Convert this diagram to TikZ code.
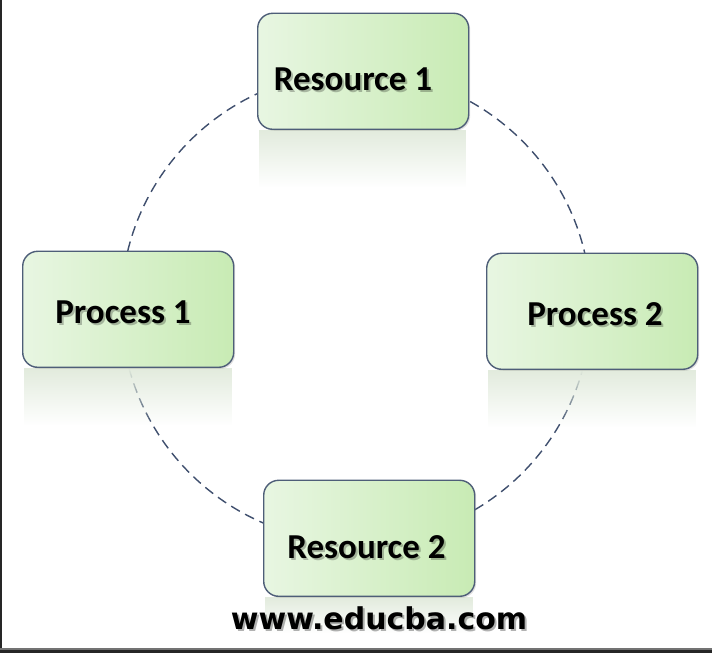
\documentclass[tikz,border=0pt]{standalone}
\usepackage{fontspec}
\setmainfont{Carlito}
\newfontfamily\urlfont{DejaVu Sans}
\usetikzlibrary{fadings,shadows}
\definecolor{boxL}{HTML}{E8F6E2}
\definecolor{boxR}{HTML}{C8EBB4}
\definecolor{edgeC}{HTML}{4E5E78}
\definecolor{dashC}{HTML}{3F4F6E}
\definecolor{reflC}{HTML}{E2EBDD}
\tikzset{
  box/.style={draw=edgeC, line width=1.4pt, rounded corners=15pt,
    left color=boxL, right color=boxR, minimum width=211pt, minimum height=116pt,
    inner sep=0pt, anchor=south west,
    drop shadow={opacity=0.25, shadow xshift=1.5pt, shadow yshift=-1.5pt}},
  lbl/.style={font=\fontsize{35}{40}\selectfont\bfseries, text=black, inner sep=0pt},
  lblsh/.style={font=\fontsize{35}{40}\selectfont\bfseries, text=black, opacity=0.25, inner sep=0pt},
  refl/.style={fill=reflC, path fading=south},
  ring/.style={draw=dashC, line width=1.4pt, dash pattern=on 10pt off 6pt}
}
\begin{document}
\begin{tikzpicture}[x=1pt,y=1pt]
\useasboundingbox (0,0) rectangle (712,653);
\fill[white] (0,0) rectangle (712,653);
% dashed cycle
\coordinate (ctr) at (356,346);
\draw[ring] (ctr) circle (235);
% reflections
\fill[refl] (259,523) rectangle (466,466);
\fill[refl] (24,285) rectangle (232,228);
\fill[refl] (488,283) rectangle (696,226);
\fill[refl] (265,56) rectangle (473,20);
% boxes
\node[box] (r1) at (257,523) {};
\node[box] (p1) at (22,285) {};
\node[box] (p2) at (486,283) {};
\node[box] (r2) at (263,56) {};
% labels with shadow
\node[lblsh] (r1s) at (355,572) {Resource 1};
\node[lbl] (r1t) at (353,574) {Resource 1};
\node[lblsh] (p1s) at (125,338.5) {Process 1};
\node[lbl] (p1t) at (123,340.5) {Process 1};
\node[lblsh] (p2s) at (597,337) {Process 2};
\node[lbl] (p2t) at (595,339) {Process 2};
\node[lblsh] (r2s) at (368.5,104) {Resource 2};
\node[lbl] (r2t) at (366.5,106) {Resource 2};
% url
\node[font=\urlfont\fontsize{30}{34}\selectfont\bfseries, opacity=0.3, inner sep=0pt] (urls) at (381,33) {www.educba.com};
\node[font=\urlfont\fontsize{30}{34}\selectfont\bfseries, inner sep=0pt] (url) at (379,35) {www.educba.com};
% frame
\fill[black!85] (0,0) rectangle (2,653);
\fill[black!55] (0,3) rectangle (712,5);
\fill[black!85] (0,0) rectangle (712,3);
\end{tikzpicture}
\end{document}
